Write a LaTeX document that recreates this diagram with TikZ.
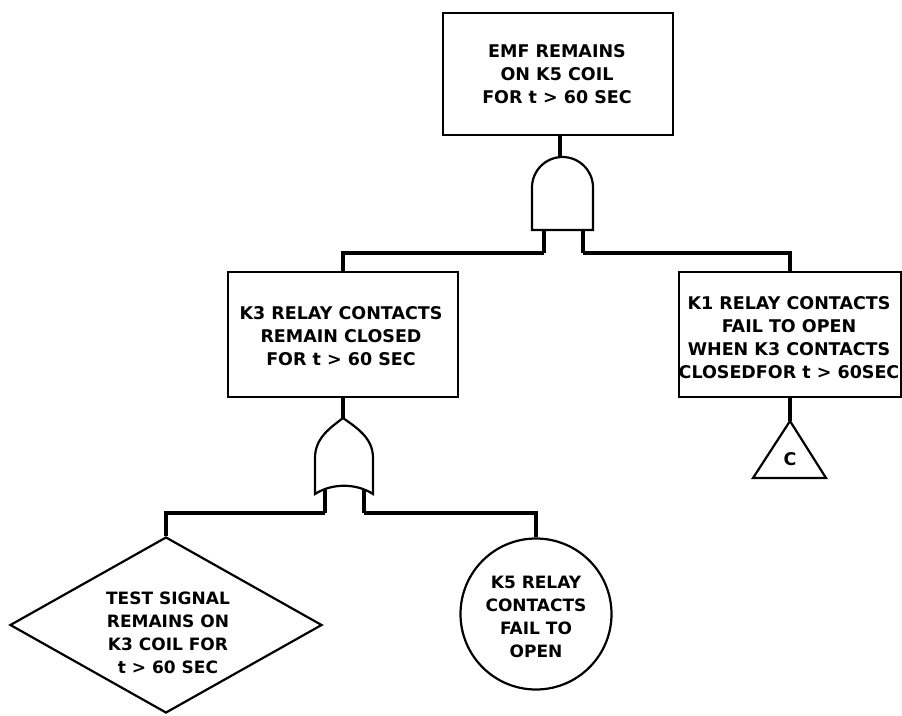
\documentclass[tikz,border=0pt]{standalone}
\usepackage{fontspec}
\setmainfont{DejaVu Sans}
\usetikzlibrary{shapes.geometric}
\begin{document}
\begin{tikzpicture}[x=1pt,y=-1pt,
  lbl/.style={font=\bfseries\fontsize{17.5}{23}\selectfont, align=center, inner sep=0pt},
  slbl/.style={font=\bfseries\fontsize{17}{23}\selectfont, align=center, inner sep=0pt},
  evbox/.style={draw, line width=2.4pt, rectangle, inner sep=0pt},
  conn/.style={line width=3.5pt},
  gate/.style={line width=2.2pt, fill=white}]
\useasboundingbox (0,0) rectangle (902,715);
% top event
\node[evbox, minimum width=230pt, minimum height=122pt] (top) at (558,74) {};
\node[lbl] (toptxt) at (557,74) {EMF REMAINS\\ON K5 COIL\\FOR t > 60 SEC};
% AND gate
\coordinate (andtop) at (560,157);
\coordinate (andL) at (544,228);
\coordinate (andR) at (583,228);
\draw[conn] (top.south -| andtop) -- (andtop);
\draw[conn] (andL) -- ++(0,25) coordinate (jl);
\draw[conn] (andR) -- ++(0,25) coordinate (jr);
\draw[gate] (532,230) -- (532,187.5) arc[start angle=180, end angle=360, radius=30.5] -- (593,230) -- cycle;
% left intermediate
\node[evbox, minimum width=230pt, minimum height=125pt] (lbox) at (343,334.5) {};
\node[lbl] (ltxt) at (341,336) {K3 RELAY CONTACTS\\REMAIN CLOSED\\FOR t > 60 SEC};
% right intermediate
\node[evbox, minimum width=222pt, minimum height=125pt] (rbox) at (790,334.5) {};
\node[lbl] (rtxt) at (789,337.5) {K1 RELAY CONTACTS\\FAIL TO OPEN\\WHEN K3 CONTACTS\\CLOSEDFOR t > 60SEC};
\draw[conn] (jl) -| (lbox.north);
\draw[conn] (jr) -| (rbox.north);
% transfer triangle
\coordinate (tri) at (790,421);
\draw[conn] (rbox.south) -- (tri);
\draw[line width=2.2pt] (tri) -- (826,478) -- (753,478) -- cycle;
\node[lbl] (trilbl) at (790,459) {C};
% OR gate
\coordinate (ortop) at (343,418);
\coordinate (orL) at (325,490);
\coordinate (orR) at (364,490);
\draw[conn] (lbox.south) -- (ortop);
\draw[conn] (orL) -- ++(0,23) coordinate (ol);
\draw[conn] (orR) -- ++(0,23) coordinate (or);
\draw[gate] (ortop) .. controls (330,428) and (315,438) .. (315,458) -- (315,494)
  .. controls (332,483) and (356,483) .. (373,494) -- (373,458)
  .. controls (373,438) and (357,428) .. (ortop) -- cycle;
% basic events
\node[draw, line width=2.2pt, shape=diamond, aspect=1.78, minimum width=312pt, minimum height=176pt, inner sep=0pt] (dia) at (166,625) {};
\node[slbl] (dtxt) at (168,633) {TEST SIGNAL\\REMAINS ON\\K3 COIL FOR\\t > 60 SEC};
\node[draw, line width=2.2pt, circle, minimum size=151pt, inner sep=0pt] (circ) at (536,614) {};
\node[slbl] (ctxt) at (536,617) {K5 RELAY\\CONTACTS\\FAIL TO\\OPEN};
\draw[conn] (ol) -| (dia.north);
\draw[conn] (or) -| (circ.north);
\end{tikzpicture}
\end{document}
